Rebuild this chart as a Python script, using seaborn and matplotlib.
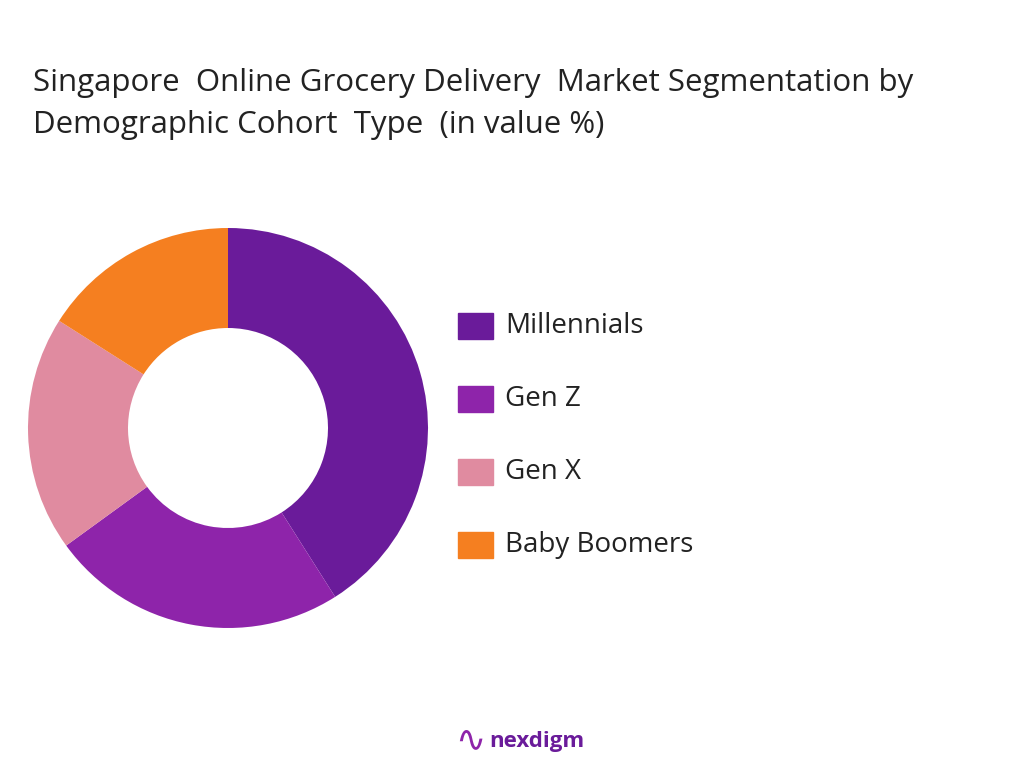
import matplotlib
matplotlib.use('Agg')
import matplotlib.pyplot as plt
import seaborn as sns
from matplotlib.patches import Rectangle

sns.set_theme(style='white')
plt.rcParams['font.family'] = ['Open Sans', 'DejaVu Sans']

# ── Data ──────────────────────────────────────────────
segments = ['Millennials', 'Gen Z', 'Gen X', 'Baby Boomers']
shares = [41, 24, 19, 16]
colors = ['#6A1B9A', '#8E24AA', '#E08BA0', '#F57F20']

W, H = 1024, 768
fig = plt.figure(figsize=(W / 100, H / 100), dpi=100)
fig.patch.set_facecolor('white')

# ── Donut ─────────────────────────────────────────────
cx, cy, r = 228, 428, 200
ax = fig.add_axes([(cx - r) / W, 1 - (cy + r) / H, 2 * r / W, 2 * r / H])
ax.pie(shares, colors=colors, startangle=90, counterclock=False, radius=1,
       wedgeprops=dict(width=0.5, edgecolor='none'))
ax.set_xlim(-1, 1)
ax.set_ylim(-1, 1)
ax.set_aspect('equal')
ax.axis('off')

# ── Title ─────────────────────────────────────────────
title_lines = ['Singapore  Online Grocery Delivery  Market Segmentation by',
               'Demographic Cohort  Type  (in value %)']
for line, y in zip(title_lines, [83, 125]):
    fig.text(33 / W, 1 - y / H, line, fontsize=22.5, color='#222222',
             va='center', ha='left')

# ── Legend ────────────────────────────────────────────
leg_y = [326, 399, 472, 545]
for name, col, y in zip(segments, colors, leg_y):
    fig.patches.append(Rectangle((458 / W, 1 - (y + 13) / H), 35 / W, 26 / H,
                                 transform=fig.transFigure, color=col))
    fig.text(505 / W, 1 - y / H, name, fontsize=20, color='#222222', va='center')

# ── Logo ──────────────────────────────────────────────
fig.text(489 / W, 1 - 741 / H, 'nexdigm', fontsize=16, fontweight='bold',
         color='#6A1B9A', va='center')
fig.text(455 / W, 1 - 741 / H, '\u223F', fontsize=26, color='#8E24AA', va='center')

fig.savefig('out.png', dpi=100)
